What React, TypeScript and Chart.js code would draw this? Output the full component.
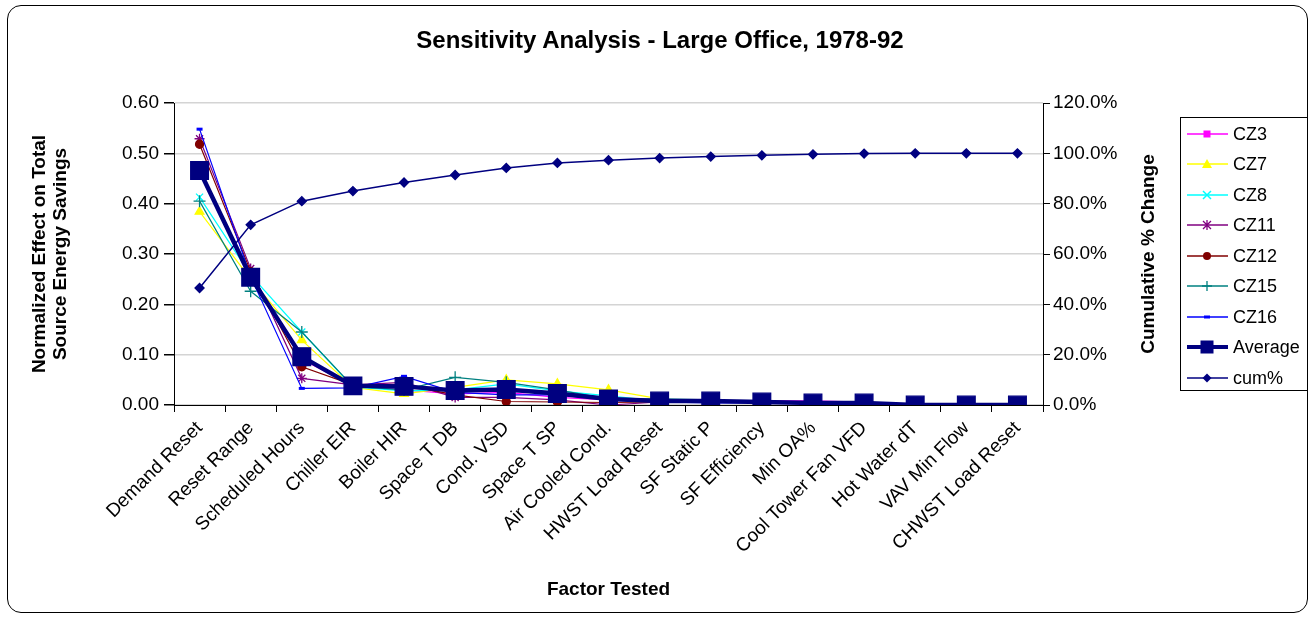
import React, { useEffect, useRef } from "react";
import { Chart, registerables } from "chart.js";

Chart.register(...registerables);

const categories = [
  "Demand Reset", "Reset Range", "Scheduled Hours", "Chiller EIR", "Boiler HIR",
  "Space T DB", "Cond. VSD", "Space T SP", "Air Cooled Cond.", "HWST Load Reset",
  "SF Static P", "SF Efficiency", "Min OA%", "Cool Tower Fan VFD", "Hot Water dT",
  "VAV Min Flow", "CHWST Load Reset",
];

const cz3 = [0.465, 0.258, 0.091, 0.038, 0.030, 0.022, 0.025, 0.015, 0.010, 0.010, 0.008, 0.008, 0.008, 0.006, 0.000, 0.000, 0.000];
const cz7 = [0.384, 0.250, 0.129, 0.035, 0.022, 0.035, 0.050, 0.042, 0.030, 0.012, 0.006, 0.005, 0.004, 0.003, 0.000, 0.000, 0.000];
const cz8 = [0.413, 0.258, 0.145, 0.036, 0.028, 0.030, 0.042, 0.028, 0.018, 0.008, 0.010, 0.005, 0.004, 0.003, 0.000, 0.000, 0.000];
const cz11 = [0.529, 0.271, 0.053, 0.040, 0.045, 0.015, 0.015, 0.010, 0.000, 0.006, 0.005, 0.006, 0.005, 0.004, 0.000, 0.000, 0.000];
const cz12 = [0.518, 0.265, 0.076, 0.040, 0.040, 0.020, 0.007, 0.006, 0.005, 0.006, 0.005, 0.005, 0.004, 0.003, 0.000, 0.000, 0.000];
const cz15 = [0.405, 0.226, 0.145, 0.037, 0.030, 0.055, 0.045, 0.030, 0.012, 0.012, 0.010, 0.005, 0.003, 0.003, 0.000, 0.000, 0.000];
const cz16 = [0.548, 0.255, 0.033, 0.034, 0.057, 0.025, 0.020, 0.020, 0.010, 0.006, 0.004, 0.004, 0.004, 0.002, 0.000, 0.000, 0.000];
const average = [0.466, 0.254, 0.096, 0.038, 0.037, 0.029, 0.031, 0.023, 0.012, 0.008, 0.008, 0.006, 0.004, 0.004, 0.000, 0.000, 0.000];
const cumPct = [46.5, 71.6, 81.0, 85.0, 88.4, 91.4, 94.2, 96.2, 97.3, 98.1, 98.7, 99.2, 99.6, 99.9, 100, 100, 100];

const leftTicks = [0, 0.1, 0.2, 0.3, 0.4, 0.5, 0.6];
const rightTicks = [0, 20, 40, 60, 80, 100, 120];

const FONT = "'Liberation Sans', Arial, Helvetica, sans-serif";

type SeriesStyle = {
  label: string;
  data: number[];
  color: string;
  marker: string;
  radius: number;
  width: number;
  yAxisID: string;
  order: number;
};

const series: SeriesStyle[] = [
  { label: "CZ3", data: cz3, color: "#FF00FF", marker: "rect", radius: 5, width: 1.2, yAxisID: "y", order: 9 },
  { label: "CZ7", data: cz7, color: "#FFFF00", marker: "triangle", radius: 5, width: 1.2, yAxisID: "y", order: 8 },
  { label: "CZ8", data: cz8, color: "#00FFFF", marker: "crossRot", radius: 5, width: 1.2, yAxisID: "y", order: 7 },
  { label: "CZ11", data: cz11, color: "#800080", marker: "star", radius: 5, width: 1.2, yAxisID: "y", order: 6 },
  { label: "CZ12", data: cz12, color: "#800000", marker: "circle", radius: 4, width: 1.2, yAxisID: "y", order: 5 },
  { label: "CZ15", data: cz15, color: "#008080", marker: "cross", radius: 6, width: 1.2, yAxisID: "y", order: 4 },
  { label: "CZ16", data: cz16, color: "#0000FF", marker: "line", radius: 3, width: 1.2, yAxisID: "y", order: 3 },
  { label: "Average", data: average, color: "#000080", marker: "rect", radius: 12.5, width: 4.5, yAxisID: "y", order: 0 },
  { label: "cum%", data: cumPct, color: "#000080", marker: "rectRot", radius: 4.5, width: 1.5, yAxisID: "y1", order: 1 },
];

function LegendMarker({ s }: { s: SeriesStyle }) {
  const cx = 20, cy = 10, c = s.color;
  let m: React.ReactNode = null;
  switch (s.label) {
    case "CZ3": m = <rect x={cx - 3.5} y={cy - 3.5} width={7} height={7} fill={c} />; break;
    case "CZ7": m = <polygon points={`${cx},${cy - 5} ${cx + 5},${cy + 4} ${cx - 5},${cy + 4}`} fill={c} />; break;
    case "CZ8": m = <path d={`M${cx - 4},${cy - 4}L${cx + 4},${cy + 4}M${cx + 4},${cy - 4}L${cx - 4},${cy + 4}`} stroke={c} strokeWidth={1.5} />; break;
    case "CZ11": m = <path d={`M${cx - 4},${cy - 4}L${cx + 4},${cy + 4}M${cx + 4},${cy - 4}L${cx - 4},${cy + 4}M${cx},${cy - 5}L${cx},${cy + 5}`} stroke={c} strokeWidth={1.3} />; break;
    case "CZ12": m = <circle cx={cx} cy={cy} r={4} fill={c} />; break;
    case "CZ15": m = <path d={`M${cx - 5},${cy}L${cx + 5},${cy}M${cx},${cy - 5}L${cx},${cy + 5}`} stroke={c} strokeWidth={1.3} />; break;
    case "CZ16": m = <rect x={cx - 3} y={cy - 1.5} width={6} height={3} fill={c} />; break;
    case "Average": m = <rect x={cx - 6.5} y={cy - 6.5} width={13} height={13} fill={c} />; break;
    case "cum%": m = <polygon points={`${cx},${cy - 4.5} ${cx + 4.5},${cy} ${cx},${cy + 4.5} ${cx - 4.5},${cy}`} fill={c} />; break;
  }
  return (
    <svg width={42} height={20} style={{ position: "absolute", left: 6, top: 0 }}>
      <line x1={0} y1={cy} x2={41} y2={cy} stroke={c} strokeWidth={s.label === "Average" ? 4 : 1.5} />
      {m}
    </svg>
  );
}

function Legend() {
  return (
    <div
      style={{
        position: "absolute", left: 1180, top: 117, width: 128, height: 274,
        border: "1px solid #000", boxSizing: "border-box", background: "#fff",
      }}
    >
      {series.map((s, i) => (
        <div key={s.label} style={{ position: "absolute", left: 0, top: 6 + i * 30.45, height: 20, width: 126 }}>
          <LegendMarker s={s} />
          <span style={{ position: "absolute", left: 52, top: 0, lineHeight: "20px", fontSize: 18, fontFamily: FONT, color: "#000", whiteSpace: "nowrap" }}>
            {s.label}
          </span>
        </div>
      ))}
    </div>
  );
}

export default function App() {
  const ref = useRef<HTMLCanvasElement>(null);

  useEffect(() => {
    const canvas = ref.current;
    if (!canvas) return;
    const tickFont = { family: FONT, size: 19 };
    const chart = new Chart(canvas, {
      type: "line",
      data: {
        labels: categories,
        datasets: series.map((s) => ({
          label: s.label,
          data: s.data,
          yAxisID: s.yAxisID,
          borderColor: s.color,
          backgroundColor: s.color,
          borderWidth: s.width,
          pointStyle: s.marker as any,
          pointRadius: s.radius,
          pointHoverRadius: s.radius,
          pointBorderColor: s.color,
          pointBackgroundColor: s.color,
          pointBorderWidth: s.marker === "line" ? 3 : 1.3,
          tension: 0,
          fill: false,
          order: s.order,
        })),
      },
      options: {
        responsive: false,
        animation: false,
        maintainAspectRatio: false,
        layout: { padding: { left: 0, right: 145, top: 103, bottom: 10 } },
        plugins: {
          legend: { display: false },
          title: { display: false },
          tooltip: { enabled: false },
        },
        scales: {
          x: {
            type: "category",
            offset: true,
            grid: { display: true, drawOnChartArea: false, offset: true, tickLength: 7, tickColor: "#000" },
            border: { display: true, color: "#000", width: 1 },
            ticks: { autoSkip: false, maxRotation: 45, minRotation: 45, font: tickFont, color: "#000", padding: 5 },
            title: {
              display: true, text: "Factor Tested", color: "#000",
              font: { family: FONT, size: 19, weight: "bold" }, padding: { top: 0, bottom: 8 },
            },
            afterFit: (scale: any) => { scale.height = 204; },
          },
          y: {
            type: "linear",
            position: "left",
            min: 0,
            max: 0.6,
            afterBuildTicks: (scale: any) => { scale.ticks = leftTicks.map((v) => ({ value: v })); },
            grid: { color: "#d4d4d4", lineWidth: 1.5, tickColor: "#000", tickLength: 10 },
            border: { display: true, color: "#000", width: 1 },
            ticks: { font: tickFont, color: "#000", padding: 5, callback: (v: any) => Number(v).toFixed(2) },
            title: {
              display: true,
              text: ["Normalized Effect on Total", "Source Energy Savings"],
              color: "#000",
              font: { family: FONT, size: 19, weight: "bold", lineHeight: 1.1 },
              padding: { top: 29, bottom: 0 },
            },
            afterFit: (scale: any) => { scale.width = 174; },
          },
          y1: {
            type: "linear",
            position: "right",
            min: 0,
            max: 120,
            afterBuildTicks: (scale: any) => { scale.ticks = rightTicks.map((v) => ({ value: v })); },
            grid: { drawOnChartArea: false, tickColor: "#000", tickLength: 7 },
            border: { display: true, color: "#000", width: 1 },
            ticks: { font: tickFont, color: "#000", padding: 3, callback: (v: any) => Number(v).toFixed(1) + "%" },
            afterFit: (scale: any) => { scale.width = 127; },
          },
        },
      } as any,
    });
    return () => chart.destroy();
  }, []);

  return (
    <div style={{ position: "absolute", left: 0, top: 0, width: 1315, height: 619, background: "#fff", overflow: "hidden" }}>
      <div
        style={{
          position: "absolute", left: 7, top: 5, width: 1301, height: 608,
          border: "1px solid #000", borderRadius: 14, boxSizing: "border-box",
        }}
      />
      <canvas ref={ref} width={1315} height={619} style={{ position: "absolute", left: 0, top: 0, width: 1315, height: 619 }} />
      <div
        style={{
          position: "absolute", left: 0, top: 26, width: 1320, textAlign: "center",
          fontFamily: FONT, fontWeight: "bold", fontSize: 24, lineHeight: "28px", color: "#000",
          whiteSpace: "nowrap",
        }}
      >
        Sensitivity Analysis - Large Office, 1978-92
      </div>
      <div
        style={{
          position: "absolute", left: 1148 - 150, top: 254 - 12, width: 300, height: 24,
          transform: "rotate(-90deg)", transformOrigin: "150px 12px", textAlign: "center",
          fontFamily: FONT, fontWeight: "bold", fontSize: 19, lineHeight: "24px", color: "#000",
          whiteSpace: "nowrap",
        }}
      >
        Cumulative % Change
      </div>
      <Legend />
    </div>
  );
}
